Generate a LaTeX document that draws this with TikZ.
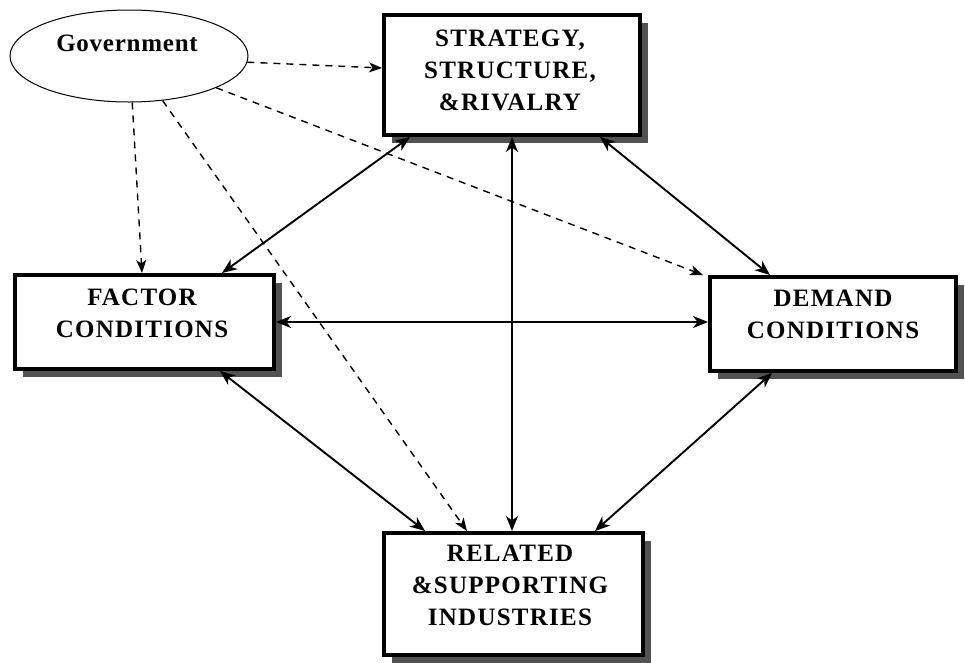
\documentclass[tikz,border=0pt]{standalone}
\usepackage{fontspec}
\setmainfont{Liberation Serif}
\newfontfamily\forcefont[LetterSpace=5]{Liberation Serif}
\newfontfamily\govfont[LetterSpace=3]{Liberation Serif}
\usetikzlibrary{arrows.meta,calc,positioning,shapes.geometric,shadows}

\tikzset{
  force/.style={draw,line width=4pt,fill=white,inner sep=0pt,
    drop shadow={shadow xshift=8pt,shadow yshift=-8pt,fill=black!68,opacity=1}},
  forcetext/.style={font=\forcefont\bfseries\fontsize{25}{32}\selectfont,align=center,inner sep=0pt},
  link/.style={line width=1.9pt,{Stealth[length=15pt,width=12pt,inset=4.5pt]}-{Stealth[length=15pt,width=12pt,inset=4.5pt]}},
  govlink/.style={line width=1.4pt,dash pattern=on 7pt off 6pt,-{Stealth[length=13pt,width=10pt,inset=3.5pt]}}
}

\begin{document}
\begin{tikzpicture}[x=1pt,y=-1pt]
\useasboundingbox (0,0) rectangle (965,662);
% government
\node[ellipse,draw,line width=1pt,minimum width=238pt,minimum height=92pt,inner sep=0pt] (gov) at (129,56) {};
\node[font=\govfont\bfseries\fontsize{25}{30}\selectfont,inner sep=0pt] (govText) at (127,43) {Government};
% the four boxes
\node[force,minimum width=256pt,minimum height=120pt] (strat) at (512,75) {};
\node[forcetext] (stratText) at (510,70) {STRATEGY,\\STRUCTURE,\\\&RIVALRY};
\node[force,minimum width=259pt,minimum height=94pt] (factor) at (144.5,322) {};
\node[forcetext] (factorText) at (142,313) {FACTOR\\CONDITIONS};
\node[force,minimum width=246pt,minimum height=94pt] (demand) at (833,324) {};
\node[forcetext] (demandText) at (833,314) {DEMAND\\CONDITIONS};
\node[force,minimum width=259pt,minimum height=122pt] (rel) at (513.5,594) {};
\node[forcetext] (relText) at (510,585) {RELATED\\\&SUPPORTING\\INDUSTRIES};
% solid links
\draw[link] ([xshift=28pt]strat.south west) -- ([xshift=209pt]factor.north west);
\draw[link] (strat.south) -- (strat.south |- rel.north);
\draw[link] ([xshift=-42pt]strat.south east) -- ([xshift=62pt]demand.north west);
\draw[link] (factor.east) -- (factor.east -| demand.west);
\draw[link] ([xshift=207pt]factor.south west) -- ([xshift=43pt]rel.north west);
\draw[link] ([xshift=64pt]demand.south west) -- ([xshift=-50pt]rel.north east);
% dashed links
\draw[govlink] (gov.-3) -- ([yshift=7pt]strat.west);
\draw[govlink] (gov.-86) -- ([xshift=129pt]factor.north west);
\draw[govlink] (gov.-53) -- ([xshift=85pt]rel.north west);
\draw[govlink] (gov.-20) -- ([xshift=-5pt]demand.north west);
\end{tikzpicture}
\end{document}
